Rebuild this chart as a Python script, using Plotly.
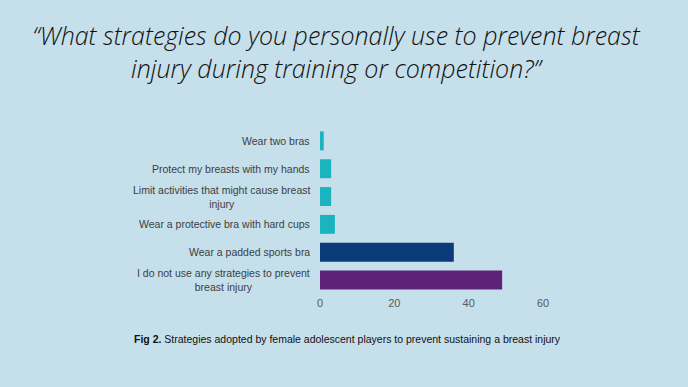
import plotly.graph_objects as go

categories = [
    "I do not use any strategies to prevent<br>breast injury",
    "Wear a padded sports bra",
    "Wear a protective bra with hard cups",
    "Limit activities that might cause breast<br>injury",
    "Protect my breasts with my hands",
    "Wear two bras",
]
values = [49, 36, 4, 3, 3, 1]
bar_colors = ["#5E2278", "#0A3A78", "#19B4BE", "#19B4BE", "#19B4BE", "#19B4BE"]
x_ticks = [0, 20, 40, 60]

BG = "#C5DFEB"
W, H = 688, 387
L, R, T, B = 320, 145, 127, 92
PW = W - L - R
PH = H - T - B

fig = go.Figure()
fig.add_trace(go.Bar(
    y=categories, x=values, orientation="h",
    marker=dict(color=bar_colors, line=dict(width=0)),
    hoverinfo="x+y",
))

for c in categories:
    fig.add_annotation(
        x=0, xref="paper", y=c, yref="y",
        text=c, showarrow=False, xanchor="right", xshift=-8,
        align="center",
        font=dict(family="Liberation Sans, Arial, sans-serif", size=10.5, color="#404040"),
    )

fig.add_annotation(
    x=(347.5 - L) / PW, xref="paper", y=-(339 - (H - B)) / PH, yref="paper",
    xanchor="center", yanchor="middle",
    text="<b>Fig 2.</b> Strategies adopted by female adolescent players to prevent sustaining a breast injury",
    showarrow=False,
    font=dict(family="Liberation Sans Narrow, Liberation Sans, Arial, sans-serif", size=10.5, color="#111111"),
)

fig.update_layout(
    width=W, height=H,
    paper_bgcolor=BG, plot_bgcolor=BG,
    margin=dict(l=L, r=R, t=T, b=B),
    bargap=0.32,
    showlegend=False,
    title=dict(
        text="<i>“What strategies do you personally use to prevent breast<br>injury during training or competition?”</i>",
        x=336 / W, xref="container", xanchor="center",
        y=1 - 45 / H, yanchor="middle",
        font=dict(family="Open Sans, sans-serif", size=25, color="#111111", weight=300),
    ),
    xaxis=dict(
        range=[0, 60], tickvals=x_ticks, showgrid=False, zeroline=False,
        showline=False, ticks="",
        tickfont=dict(family="Liberation Sans, Arial, sans-serif", size=11, color="#595959"),
    ),
    yaxis=dict(
        showticklabels=False, showgrid=False, zeroline=False, showline=False, ticks="",
    ),
)

fig.write_html("out.html", config={"displayModeBar": False},
               post_script="document.body.style.margin='0';")
